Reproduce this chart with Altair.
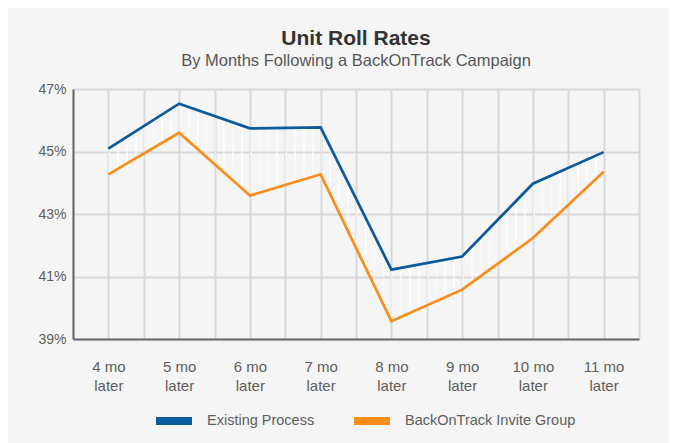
import altair as alt
import pandas as pd

months = ["4 mo later", "5 mo later", "6 mo later", "7 mo later",
          "8 mo later", "9 mo later", "10 mo later", "11 mo later"]
existing = [45.09, 46.53, 45.74, 45.77, 41.22, 41.64, 43.97, 44.98]
backontrack = [44.27, 45.60, 43.59, 44.27, 39.57, 40.58, 42.23, 44.35]
series = ["Existing Process", "BackOnTrack Invite Group"]
colors = ["#0b5a9c", "#fa8c1c"]
y_ticks = [39, 41, 43, 45, 47]

idx = list(range(len(months)))
wide = pd.DataFrame({"idx": idx, "month": months,
                     "existing": existing, "backontrack": backontrack})
long = pd.concat([
    pd.DataFrame({"idx": idx, "month": months, "value": existing, "series": series[0]}),
    pd.DataFrame({"idx": idx, "month": months, "value": backontrack, "series": series[1]}),
], ignore_index=True)

# x axis: grid at every half band, labels only at category centres
x_ticks = [i * 0.5 - 0.5 for i in range(2 * len(months) + 1)]
label_arr = "[" + ",".join(
    "['" + m.rsplit(" ", 1)[0] + "','" + m.rsplit(" ", 1)[1] + "']" for m in months
) + "]"
x_label_expr = f"datum.value % 1 === 0 ? {label_arr}[datum.value] : ''"

x_enc = alt.X(
    "idx:Q",
    scale=alt.Scale(domain=[-0.5, len(months) - 0.5], nice=False, zero=False),
    axis=alt.Axis(
        title=None, values=x_ticks, labelExpr=x_label_expr, ticks=False,
        labelOverlap=False, labelFlush=False, labelPadding=20,
        labelFontSize=15, labelColor="#5e5e5e", labelLineHeight=19,
        domainColor="#666666", domainWidth=2,
        gridColor="#d9d9d9", gridWidth=2,
    ),
)
y_axis = alt.Axis(
    title=None, values=y_ticks, labelExpr="datum.value + '%'", ticks=False,
    labelPadding=7, labelFontSize=14, labelColor="#5e5e5e",
    domainColor="#666666", domainWidth=2,
    gridColor="#d9d9d9", gridWidth=2,
)
y_scale = alt.Scale(domain=[39, 47], nice=False, zero=False)

# vertical white hatch between the two lines
n = 56
w = 0.2 / n
stops = []
for k in range(n):
    a = k / n
    b = a + w
    stops += [
        alt.GradientStop(color="rgba(255,255,255,0)", offset=a),
        alt.GradientStop(color="rgba(255,255,255,0.6)", offset=a),
        alt.GradientStop(color="rgba(255,255,255,0.6)", offset=b),
        alt.GradientStop(color="rgba(255,255,255,0)", offset=b),
    ]
hatch = alt.Gradient(gradient="linear", stops=stops, x1=0, x2=1, y1=0, y2=0)

area = alt.Chart(wide).mark_area(color=hatch).encode(
    x=x_enc,
    y=alt.Y("existing:Q", scale=y_scale, axis=y_axis),
    y2="backontrack:Q",
)

lines = alt.Chart(long).mark_line(strokeWidth=2.7).encode(
    x=x_enc,
    y=alt.Y("value:Q", scale=y_scale, axis=y_axis),
    color=alt.Color(
        "series:N",
        scale=alt.Scale(domain=series, range=colors),
        sort=series,
        legend=alt.Legend(
            title=None, orient="none", direction="horizontal",
            legendX=79, legendY=310,
            symbolType="M-1,0H1", symbolSize=1296, symbolStrokeWidth=8,
            labelFontSize=14.5, labelColor="#5e5e5e", labelOffset=11,
            labelLimit=400, columnPadding=23,
        ),
    ),
)

chart = alt.layer(area, lines).properties(
    width=566,
    height=250,
    padding={"left": 29, "top": 19, "right": 30, "bottom": 10},
    background="#f5f5f5",
    title=alt.TitleParams(
        "Unit Roll Rates",
        subtitle="By Months Following a BackOnTrack Campaign",
        fontSize=21, fontWeight="bold", color="#333333",
        subtitleFontSize=16.5, subtitleColor="#555555", subtitlePadding=4,
        anchor="middle", frame="group", offset=13,
    ),
).configure(font="Liberation Sans").configure_view(stroke=None)

chart.save("out.html", embed_options={"renderer": "svg", "actions": False})
